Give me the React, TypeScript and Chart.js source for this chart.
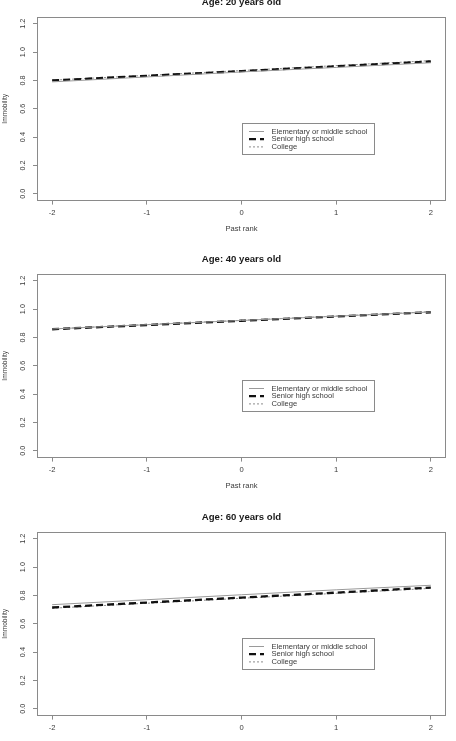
import { useEffect, useRef } from "react";
import { Chart, registerables } from "chart.js";

Chart.register(...registerables);

// Predicted immobility by past rank, for three education groups at three ages
const PAST_RANK = [-2, -1, 0, 1, 2];
const X_TICKS = [-2, -1, 0, 1, 2];
const Y_TICKS = [0, 0.2, 0.4, 0.6, 0.8, 1.0, 1.2];
const GROUPS = ["Elementary or middle school", "Senior high school", "College"];
const AGE_TITLES = ["Age: 20 years old", "Age: 40 years old", "Age: 60 years old"];

const AGE20_ELEMENTARY = [0.79, 0.825, 0.86, 0.892, 0.925];
const AGE20_SENIOR = [0.8, 0.833, 0.866, 0.9, 0.934];
const AGE20_COLLEGE = [0.802, 0.836, 0.87, 0.905, 0.94];

const AGE40_ELEMENTARY = [0.86, 0.89, 0.92, 0.95, 0.98];
const AGE40_SENIOR = [0.858, 0.888, 0.918, 0.948, 0.978];
const AGE40_COLLEGE = [0.86, 0.891, 0.921, 0.951, 0.982];

const AGE60_ELEMENTARY = [0.735, 0.77, 0.805, 0.84, 0.872];
const AGE60_SENIOR = [0.715, 0.75, 0.785, 0.82, 0.856];
const AGE60_COLLEGE = [0.71, 0.745, 0.78, 0.815, 0.85];

const PANELS = [
  { title: AGE_TITLES[0], series: [AGE20_ELEMENTARY, AGE20_SENIOR, AGE20_COLLEGE] },
  { title: AGE_TITLES[1], series: [AGE40_ELEMENTARY, AGE40_SENIOR, AGE40_COLLEGE] },
  { title: AGE_TITLES[2], series: [AGE60_ELEMENTARY, AGE60_SENIOR, AGE60_COLLEGE] },
];

const FONT = '"Liberation Sans", Arial, Helvetica, sans-serif';
const AXIS_GRAY = "#8a8a8a";
const TEXT = "#3a3a3a";

const LINE_STYLES = [
  { borderColor: "#9a9a9a", borderWidth: 1, borderDash: [] as number[] },
  { borderColor: "#111111", borderWidth: 2.3, borderDash: [7, 4] },
  { borderColor: "#8c8c8c", borderWidth: 1, borderDash: [2, 2] },
];

const PANEL_W = 456;
const PANEL_H = 257;
const PANEL_TOPS = [-13, 244, 502];

// box around the plotting region
const frame = {
  id: "frame",
  afterDatasetsDraw(chart: any) {
    const { ctx, chartArea } = chart;
    ctx.save();
    ctx.strokeStyle = AXIS_GRAY;
    ctx.lineWidth = 1;
    ctx.strokeRect(
      Math.round(chartArea.left) + 0.5,
      Math.round(chartArea.top) + 0.5,
      Math.round(chartArea.right - chartArea.left) - 1,
      Math.round(chartArea.bottom - chartArea.top) - 1
    );
    ctx.restore();
  },
};

// boxed key anchored by its top-left corner at (0, 0.5) in data units
const keyBox = {
  id: "keyBox",
  afterDatasetsDraw(chart: any) {
    const { ctx } = chart;
    const left = Math.round(chart.scales.x.getPixelForValue(0));
    const top = Math.round(chart.scales.y.getPixelForValue(0.5));
    ctx.save();
    ctx.strokeStyle = AXIS_GRAY;
    ctx.lineWidth = 1;
    ctx.setLineDash([]);
    ctx.strokeRect(left + 0.5, top + 0.5, 132, 31);
    ctx.font = `7.6px ${FONT}`;
    ctx.textBaseline = "middle";
    chart.data.datasets.forEach((ds: any, i: number) => {
      const y = top + 8.5 + i * 7.7;
      ctx.beginPath();
      ctx.setLineDash(ds.borderDash || []);
      ctx.lineWidth = ds.borderWidth;
      ctx.strokeStyle = ds.borderColor;
      ctx.moveTo(left + 7, y);
      ctx.lineTo(left + 22, y);
      ctx.stroke();
      ctx.setLineDash([]);
      ctx.fillStyle = TEXT;
      ctx.fillText(ds.label, left + 29.5, y);
    });
    ctx.restore();
  },
};

function Panel({ title, series, top }: { title: string; series: number[][]; top: number }) {
  const ref = useRef<HTMLCanvasElement | null>(null);

  useEffect(() => {
    if (!ref.current) return;
    const chart = new Chart(ref.current, {
      type: "line",
      data: {
        labels: PAST_RANK,
        datasets: series.map((vals, i) => ({
          label: GROUPS[i],
          data: PAST_RANK.map((x, j) => ({ x, y: vals[j] })),
          ...LINE_STYLES[i],
          pointRadius: 0,
          fill: false,
          tension: 0,
        })),
      },
      options: {
        responsive: false,
        animation: false,
        events: [],
        layout: { padding: { left: 0, right: 10, top: 0, bottom: 0 } },
        plugins: {
          legend: { display: false },
          tooltip: { enabled: false },
          title: {
            display: true,
            text: title,
            fullSize: false,
            color: "#1a1a1a",
            font: { family: FONT, size: 9.6, weight: "bold", lineHeight: 1.2 },
            padding: { top: 9.2, bottom: 9.28 },
          },
        },
        scales: {
          x: {
            type: "linear",
            position: "bottom",
            min: -2.16,
            max: 2.16,
            afterBuildTicks: (s: any) => {
              s.ticks = X_TICKS.map((v) => ({ value: v }));
            },
            afterFit: (s: any) => {
              s.height = 43.4;
            },
            grid: {
              display: true,
              drawOnChartArea: false,
              drawTicks: true,
              tickLength: 4,
              color: AXIS_GRAY,
            },
            border: { display: false },
            ticks: {
              color: TEXT,
              font: { family: FONT, size: 7.6, lineHeight: 1.2 },
              padding: 4,
              maxRotation: 0,
              minRotation: 0,
              callback: (v: any) => String(v),
            },
            title: {
              display: true,
              text: "Past rank",
              color: TEXT,
              font: { family: FONT, size: 7.6, lineHeight: 1.2 },
              padding: { top: 0, bottom: 10.4 },
            },
          },
          y: {
            type: "linear",
            min: -0.048,
            max: 1.248,
            afterBuildTicks: (s: any) => {
              s.ticks = Y_TICKS.map((v) => ({ value: v }));
            },
            afterFit: (s: any) => {
              s.width = 37;
            },
            grid: {
              display: true,
              drawOnChartArea: false,
              drawTicks: true,
              tickLength: 4,
              color: AXIS_GRAY,
            },
            border: { display: false },
            ticks: {
              color: TEXT,
              font: { family: FONT, size: 7.3, lineHeight: 1.2 },
              padding: 5,
              minRotation: 90,
              maxRotation: 90,
              crossAlign: "center",
              callback: (v: any) => Number(v).toFixed(1),
            },
            title: {
              display: true,
              text: "Immobility",
              color: TEXT,
              font: { family: FONT, size: 6.6, lineHeight: 1.2 },
              padding: { top: 1.1, bottom: 0 },
            },
          },
        },
      },
      plugins: [frame, keyBox],
    } as any);
    return () => chart.destroy();
  }, [title, series]);

  return (
    <canvas
      ref={ref}
      width={PANEL_W}
      height={PANEL_H}
      style={{ position: "absolute", left: 0, top, width: PANEL_W, height: PANEL_H }}
    />
  );
}

export default function App() {
  return (
    <div
      style={{
        position: "absolute",
        left: 0,
        top: 0,
        width: PANEL_W,
        height: 741,
        overflow: "hidden",
        background: "#fff",
      }}
    >
      {PANELS.map((p, i) => (
        <Panel key={p.title} title={p.title} series={p.series} top={PANEL_TOPS[i]} />
      ))}
    </div>
  );
}
